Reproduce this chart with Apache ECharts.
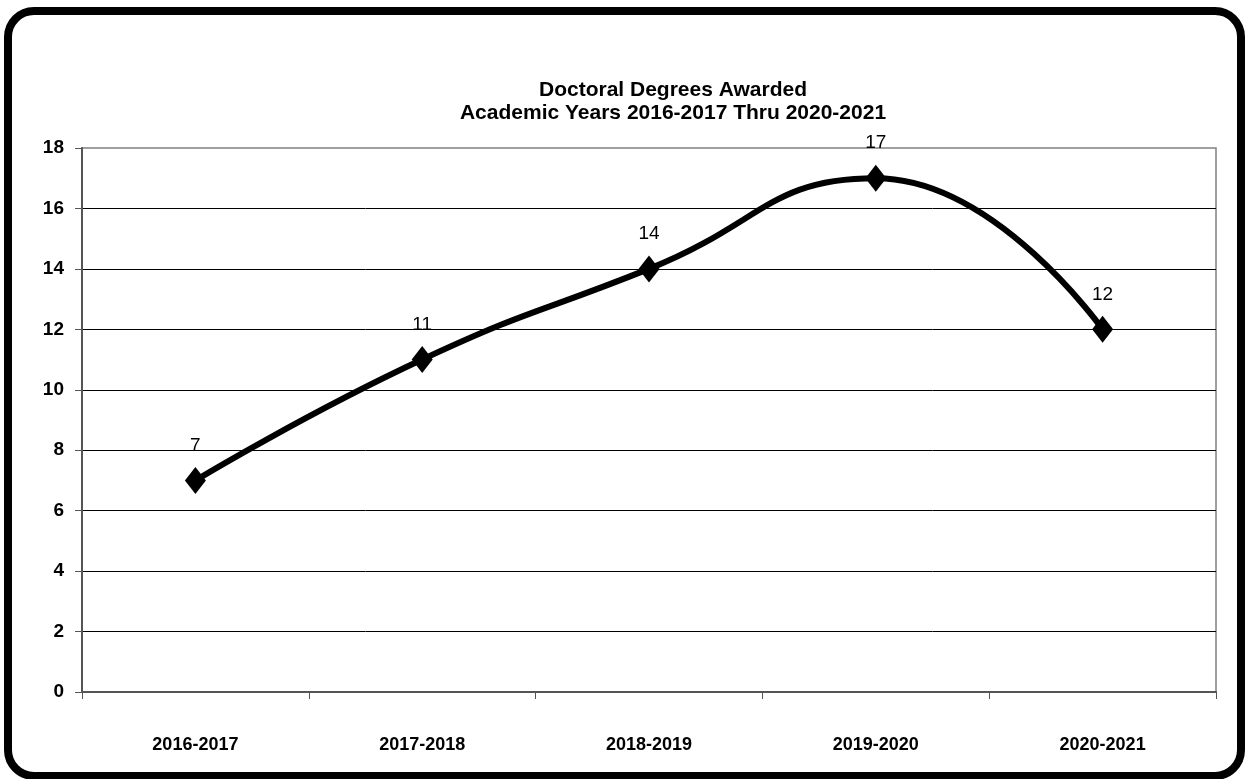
<!DOCTYPE html>
<html>
<head>
<meta charset="utf-8">
<script src="https://cdn.jsdelivr.net/npm/echarts@6/dist/echarts.min.js"></script>
<style>
  html, body { margin: 0; padding: 0; background: #fff; }
  #main { width: 1247px; height: 779px; }
</style>
</head>
<body>
<div id="main"></div>
<script type="text/javascript">
    // 数据
    var years = ['2016-2017', '2017-2018', '2018-2019', '2019-2020', '2020-2021'];
    var degrees = [7, 11, 14, 17, 12];
    var titleLines = ['Doctoral Degrees Awarded', 'Academic Years 2016-2017 Thru 2020-2021'];

    var font = '"Liberation Sans Narrow", "Arial Narrow", "Liberation Sans", sans-serif';
    var myChart = echarts.init(document.getElementById('main'));

    var option = {
        animation: false,
        textStyle: { fontFamily: font },
        title: {
            text: titleLines.join('\n'),
            left: 668,
            top: 74,
            textAlign: 'center',
            textStyle: {
                fontFamily: font,
                fontSize: 21,
                fontWeight: 'bold',
                color: '#000',
                lineHeight: 23
            }
        },
        grid: {
            left: 82,
            right: 31,
            top: 148,
            bottom: 87,
            show: true,
            borderColor: '#808080',
            borderWidth: 1.5
        },
        xAxis: {
            type: 'category',
            data: years,
            boundaryGap: true,
            axisLine: { lineStyle: { color: '#555', width: 2 } },
            axisTick: { show: true, length: 7, lineStyle: { color: '#555' } },
            axisLabel: {
                margin: 44,
                fontFamily: font,
                fontSize: 18,
                fontWeight: 'bold',
                color: '#000'
            }
        },
        yAxis: {
            type: 'value',
            min: 0,
            max: 18,
            interval: 2,
            axisLine: { show: true, lineStyle: { color: '#555', width: 2 } },
            axisTick: { show: true, length: 7, lineStyle: { color: '#555' } },
            axisLabel: {
                margin: 18,
                fontFamily: font,
                fontSize: 19,
                fontWeight: 'bold',
                color: '#000'
            },
            splitLine: {
                showMinLine: false,
                showMaxLine: false,
                lineStyle: { color: '#000', width: 1 }
            }
        },
        series: [{
            name: 'Doctoral Degrees',
            type: 'line',
            data: degrees,
            smooth: 0.5,
            symbol: 'diamond',
            symbolSize: [21, 27],
            lineStyle: { color: '#000', width: 6 },
            itemStyle: { color: '#000' },
            label: {
                show: true,
                position: 'top',
                distance: 12,
                fontFamily: font,
                fontSize: 19,
                color: '#000'
            }
        }],
        graphic: [{
            type: 'rect',
            shape: { x: 8, y: 11, width: 1233, height: 765, r: 26 },
            style: { fill: 'none', stroke: '#000', lineWidth: 8 },
            silent: true
        }]
    };

    myChart.setOption(option);
</script>
</body>
</html>
